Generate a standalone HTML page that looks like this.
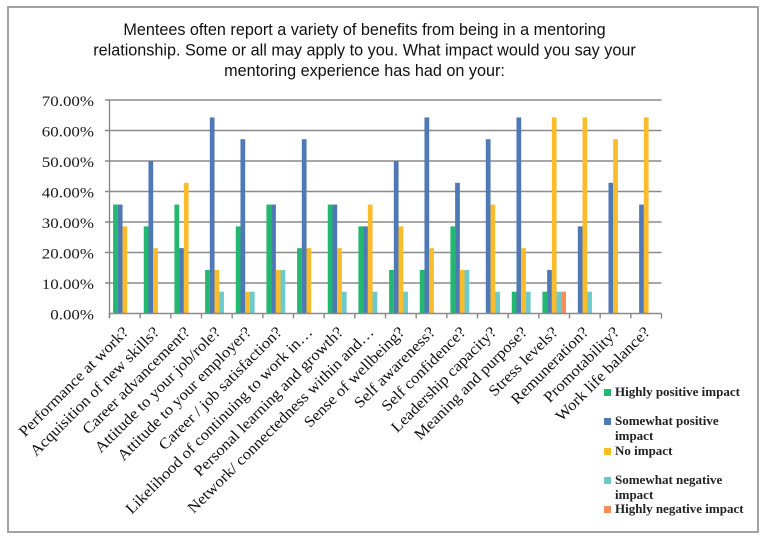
<!DOCTYPE html>
<html>
<head>
<meta charset="utf-8">
<style>
  html,body{margin:0;padding:0;background:#fff;}
  body{width:768px;height:539px;overflow:hidden;}
  svg{display:block;}
  .t{font-family:"Liberation Sans",Arial,sans-serif;font-size:16.2px;fill:#111;}
  .ya{font-family:"Liberation Serif","Times New Roman",serif;font-size:15px;fill:#1a1a1a;}
  .xl{font-family:"Liberation Serif","Times New Roman",serif;font-size:15.5px;fill:#111;}
  .lg{font-family:"Liberation Serif","Times New Roman",serif;font-size:13px;font-weight:bold;fill:#222;}
</style>
</head>
<body>
<svg width="768" height="539" viewBox="0 0 768 539" xmlns="http://www.w3.org/2000/svg">
  <rect x="0" y="0" width="768" height="539" fill="#fff"/>
  <rect x="8" y="7" width="750" height="525" fill="#fff" stroke="#a3a3a3" stroke-width="2"/>

  <!-- Title -->
  <text class="t" x="364.5" y="35" text-anchor="middle">Mentees often report a variety of benefits from being in a mentoring</text>
  <text class="t" x="364.5" y="55.5" text-anchor="middle">relationship. Some or all may apply to you. What impact would you say your</text>
  <text class="t" x="364.5" y="76" text-anchor="middle">mentoring experience has had on your:</text>

  <!-- Gridlines -->
  <g stroke="#8a8a8a" stroke-width="1.4">
    <line x1="105" y1="100" x2="661.5" y2="100"/>
    <line x1="105" y1="130.5" x2="661.5" y2="130.5"/>
    <line x1="105" y1="161" x2="661.5" y2="161"/>
    <line x1="105" y1="191.5" x2="661.5" y2="191.5"/>
    <line x1="105" y1="222" x2="661.5" y2="222"/>
    <line x1="105" y1="252.5" x2="661.5" y2="252.5"/>
    <line x1="105" y1="283" x2="661.5" y2="283"/>
    <line x1="109.5" y1="100" x2="109.5" y2="318"/>
  </g>

  <!-- Y labels -->
  <g class="ya" text-anchor="end">
    <g transform="translate(94,0) scale(1.13,1)">
      <text x="0" y="106">70.00%</text>
      <text x="0" y="136.5">60.00%</text>
      <text x="0" y="167">50.00%</text>
      <text x="0" y="197.5">40.00%</text>
      <text x="0" y="228">30.00%</text>
      <text x="0" y="258.5">20.00%</text>
      <text x="0" y="289">10.00%</text>
      <text x="0" y="319.5">0.00%</text>
    </g>
  </g>

  <!-- Bars -->
  <g>
    <!-- cat0 -->
    <rect x="113.1" y="204.57" width="4.75" height="108.93" fill="#23b86f"/>
    <rect x="117.8" y="204.57" width="4.75" height="108.93" fill="#4e79b5"/>
    <rect x="122.5" y="226.36" width="4.75" height="87.14" fill="#fbbc2c"/>
    <!-- cat1 -->
    <rect x="143.77" y="226.36" width="4.75" height="87.14" fill="#23b86f"/>
    <rect x="148.47" y="161" width="4.75" height="152.5" fill="#4e79b5"/>
    <rect x="153.17" y="248.14" width="4.75" height="65.36" fill="#fbbc2c"/>
    <!-- cat2 -->
    <rect x="174.43" y="204.57" width="4.75" height="108.93" fill="#23b86f"/>
    <rect x="179.13" y="248.14" width="4.75" height="65.36" fill="#4e79b5"/>
    <rect x="183.83" y="182.79" width="4.75" height="130.71" fill="#fbbc2c"/>
    <!-- cat3 -->
    <rect x="205.1" y="269.93" width="4.75" height="43.57" fill="#23b86f"/>
    <rect x="209.8" y="117.43" width="4.75" height="196.07" fill="#4e79b5"/>
    <rect x="214.5" y="269.93" width="4.75" height="43.57" fill="#fbbc2c"/>
    <rect x="219.2" y="291.71" width="4.75" height="21.79" fill="#6ccacb"/>
    <!-- cat4 -->
    <rect x="235.77" y="226.36" width="4.75" height="87.14" fill="#23b86f"/>
    <rect x="240.47" y="139.21" width="4.75" height="174.29" fill="#4e79b5"/>
    <rect x="245.17" y="291.71" width="4.75" height="21.79" fill="#fbbc2c"/>
    <rect x="249.87" y="291.71" width="4.75" height="21.79" fill="#6ccacb"/>
    <!-- cat5 -->
    <rect x="266.43" y="204.57" width="4.75" height="108.93" fill="#23b86f"/>
    <rect x="271.13" y="204.57" width="4.75" height="108.93" fill="#4e79b5"/>
    <rect x="275.83" y="269.93" width="4.75" height="43.57" fill="#fbbc2c"/>
    <rect x="280.53" y="269.93" width="4.75" height="43.57" fill="#6ccacb"/>
    <!-- cat6 -->
    <rect x="297.1" y="248.14" width="4.75" height="65.36" fill="#23b86f"/>
    <rect x="301.8" y="139.21" width="4.75" height="174.29" fill="#4e79b5"/>
    <rect x="306.5" y="248.14" width="4.75" height="65.36" fill="#fbbc2c"/>
    <!-- cat7 -->
    <rect x="327.77" y="204.57" width="4.75" height="108.93" fill="#23b86f"/>
    <rect x="332.47" y="204.57" width="4.75" height="108.93" fill="#4e79b5"/>
    <rect x="337.17" y="248.14" width="4.75" height="65.36" fill="#fbbc2c"/>
    <rect x="341.87" y="291.71" width="4.75" height="21.79" fill="#6ccacb"/>
    <!-- cat8 -->
    <rect x="358.43" y="226.36" width="4.75" height="87.14" fill="#23b86f"/>
    <rect x="363.13" y="226.36" width="4.75" height="87.14" fill="#4e79b5"/>
    <rect x="367.83" y="204.57" width="4.75" height="108.93" fill="#fbbc2c"/>
    <rect x="372.53" y="291.71" width="4.75" height="21.79" fill="#6ccacb"/>
    <!-- cat9 -->
    <rect x="389.1" y="269.93" width="4.75" height="43.57" fill="#23b86f"/>
    <rect x="393.8" y="161" width="4.75" height="152.5" fill="#4e79b5"/>
    <rect x="398.5" y="226.36" width="4.75" height="87.14" fill="#fbbc2c"/>
    <rect x="403.2" y="291.71" width="4.75" height="21.79" fill="#6ccacb"/>
    <!-- cat10 -->
    <rect x="419.77" y="269.93" width="4.75" height="43.57" fill="#23b86f"/>
    <rect x="424.47" y="117.43" width="4.75" height="196.07" fill="#4e79b5"/>
    <rect x="429.17" y="248.14" width="4.75" height="65.36" fill="#fbbc2c"/>
    <!-- cat11 -->
    <rect x="450.43" y="226.36" width="4.75" height="87.14" fill="#23b86f"/>
    <rect x="455.13" y="182.79" width="4.75" height="130.71" fill="#4e79b5"/>
    <rect x="459.83" y="269.93" width="4.75" height="43.57" fill="#fbbc2c"/>
    <rect x="464.53" y="269.93" width="4.75" height="43.57" fill="#6ccacb"/>
    <!-- cat12 -->
    <rect x="485.8" y="139.21" width="4.75" height="174.29" fill="#4e79b5"/>
    <rect x="490.5" y="204.57" width="4.75" height="108.93" fill="#fbbc2c"/>
    <rect x="495.2" y="291.71" width="4.75" height="21.79" fill="#6ccacb"/>
    <!-- cat13 -->
    <rect x="511.77" y="291.71" width="4.75" height="21.79" fill="#23b86f"/>
    <rect x="516.47" y="117.43" width="4.75" height="196.07" fill="#4e79b5"/>
    <rect x="521.17" y="248.14" width="4.75" height="65.36" fill="#fbbc2c"/>
    <rect x="525.87" y="291.71" width="4.75" height="21.79" fill="#6ccacb"/>
    <!-- cat14 -->
    <rect x="542.43" y="291.71" width="4.75" height="21.79" fill="#23b86f"/>
    <rect x="547.13" y="269.93" width="4.75" height="43.57" fill="#4e79b5"/>
    <rect x="551.83" y="117.43" width="4.75" height="196.07" fill="#fbbc2c"/>
    <rect x="556.53" y="291.71" width="4.75" height="21.79" fill="#6ccacb"/>
    <rect x="561.23" y="291.71" width="4.75" height="21.79" fill="#f88b5b"/>
    <!-- cat15 -->
    <rect x="577.8" y="226.36" width="4.75" height="87.14" fill="#4e79b5"/>
    <rect x="582.5" y="117.43" width="4.75" height="196.07" fill="#fbbc2c"/>
    <rect x="587.2" y="291.71" width="4.75" height="21.79" fill="#6ccacb"/>
    <!-- cat16 -->
    <rect x="608.47" y="182.79" width="4.75" height="130.71" fill="#4e79b5"/>
    <rect x="613.17" y="139.21" width="4.75" height="174.29" fill="#fbbc2c"/>
    <!-- cat17 -->
    <rect x="639.13" y="204.57" width="4.75" height="108.93" fill="#4e79b5"/>
    <rect x="643.83" y="117.43" width="4.75" height="196.07" fill="#fbbc2c"/>
  </g>

  <!-- X axis -->
  <g stroke="#8a8a8a" stroke-width="1.4">
    <line x1="109.5" y1="313.5" x2="661.5" y2="313.5"/>
    <line x1="109.5" y1="313.5" x2="109.5" y2="318.5"/>
    <line x1="140.17" y1="313.5" x2="140.17" y2="318.5"/>
    <line x1="170.83" y1="313.5" x2="170.83" y2="318.5"/>
    <line x1="201.5" y1="313.5" x2="201.5" y2="318.5"/>
    <line x1="232.17" y1="313.5" x2="232.17" y2="318.5"/>
    <line x1="262.83" y1="313.5" x2="262.83" y2="318.5"/>
    <line x1="293.5" y1="313.5" x2="293.5" y2="318.5"/>
    <line x1="324.17" y1="313.5" x2="324.17" y2="318.5"/>
    <line x1="354.83" y1="313.5" x2="354.83" y2="318.5"/>
    <line x1="385.5" y1="313.5" x2="385.5" y2="318.5"/>
    <line x1="416.17" y1="313.5" x2="416.17" y2="318.5"/>
    <line x1="446.83" y1="313.5" x2="446.83" y2="318.5"/>
    <line x1="477.5" y1="313.5" x2="477.5" y2="318.5"/>
    <line x1="508.17" y1="313.5" x2="508.17" y2="318.5"/>
    <line x1="538.83" y1="313.5" x2="538.83" y2="318.5"/>
    <line x1="569.5" y1="313.5" x2="569.5" y2="318.5"/>
    <line x1="600.17" y1="313.5" x2="600.17" y2="318.5"/>
    <line x1="630.83" y1="313.5" x2="630.83" y2="318.5"/>
    <line x1="661.5" y1="313.5" x2="661.5" y2="318.5"/>
  </g>

  <!-- X labels -->
  <g class="xl" text-anchor="end">
    <text transform="translate(129.3,333) rotate(-45) scale(1.08,1)">Performance at work?</text>
    <text transform="translate(160,333) rotate(-45) scale(1.08,1)">Acquisition of new skills?</text>
    <text transform="translate(190.7,333) rotate(-45) scale(1.08,1)">Career advancement?</text>
    <text transform="translate(221.3,333) rotate(-45) scale(1.08,1)">Attitude to your job/role?</text>
    <text transform="translate(252,333) rotate(-45) scale(1.08,1)">Attitude to your employer?</text>
    <text transform="translate(282.7,333) rotate(-45) scale(1.08,1)">Career / job satisfaction?</text>
    <text transform="translate(313.3,333) rotate(-45) scale(1.08,1)">Likelihood of continuing to work in…</text>
    <text transform="translate(344,333) rotate(-45) scale(1.08,1)">Personal learning and growth?</text>
    <text transform="translate(374.7,333) rotate(-45) scale(1.08,1)">Network/ connectedness within and…</text>
    <text transform="translate(405.3,333) rotate(-45) scale(1.08,1)">Sense of wellbeing?</text>
    <text transform="translate(436,333) rotate(-45) scale(1.08,1)">Self awareness?</text>
    <text transform="translate(466.7,333) rotate(-45) scale(1.08,1)">Self confidence?</text>
    <text transform="translate(497.3,333) rotate(-45) scale(1.08,1)">Leadership capacity?</text>
    <text transform="translate(528,333) rotate(-45) scale(1.08,1)">Meaning and purpose?</text>
    <text transform="translate(558.7,333) rotate(-45) scale(1.08,1)">Stress levels?</text>
    <text transform="translate(589.3,333) rotate(-45) scale(1.08,1)">Remuneration?</text>
    <text transform="translate(620,333) rotate(-45) scale(1.08,1)">Promotability?</text>
    <text transform="translate(650.7,333) rotate(-45) scale(1.08,1)">Work life balance?</text>
  </g>

  <!-- Legend -->
  <rect x="604" y="389" width="7" height="7" fill="#23b86f"/>
  <text class="lg" x="615" y="396">Highly positive impact</text>
  <rect x="604" y="418" width="7" height="7" fill="#4e79b5"/>
  <text class="lg" x="615" y="425">Somewhat positive</text>
  <text class="lg" x="615" y="440">impact</text>
  <rect x="604" y="448" width="7" height="7" fill="#fbbc2c"/>
  <text class="lg" x="615" y="455">No impact</text>
  <rect x="604" y="477" width="7" height="7" fill="#6ccacb"/>
  <text class="lg" x="615" y="484">Somewhat negative</text>
  <text class="lg" x="615" y="499">impact</text>
  <rect x="604" y="506" width="7" height="7" fill="#f88b5b"/>
  <text class="lg" x="615" y="513">Highly negative impact</text>
</svg>
</body>
</html>
